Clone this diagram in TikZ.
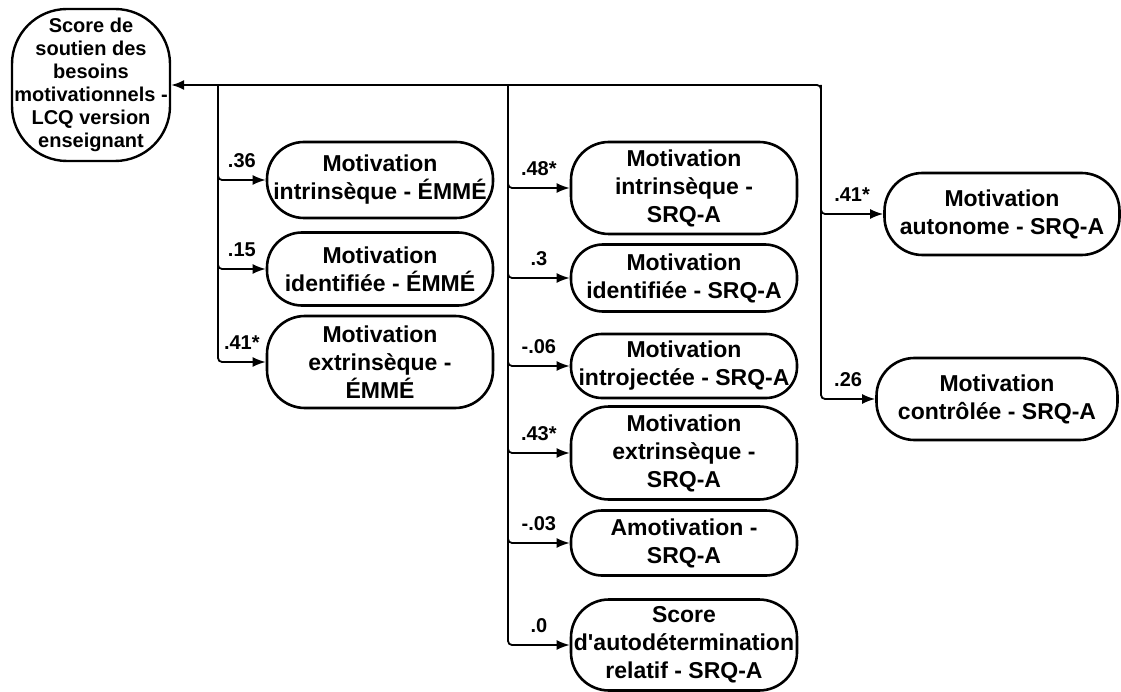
\documentclass[tikz,border=0pt]{standalone}
\usepackage{fontspec}
\setmainfont{Liberation Sans}
\usetikzlibrary{arrows.meta}
\tikzset{
	src/.style={draw, line width=2.4pt, rounded corners=55pt, minimum width=158pt, minimum height=152pt, inner sep=1pt, align=center, font=\fontsize{20}{23}\selectfont\bfseries},
	var/.style={draw, line width=2.6pt, rounded corners=38pt, minimum width=226pt, inner sep=1pt, align=center, font=\fontsize{23}{28}\selectfont\bfseries},
	coef/.style={pos=0.75, above=8pt, font=\fontsize{20}{24}\selectfont\bfseries},
	link/.style={->, line width=1.8pt, rounded corners=4pt}
}

\begin{document}
\begin{tikzpicture}[x=1pt, y=-1pt, >={Latex[length=13pt, width=10pt]}]
	\useasboundingbox (0, 0) rectangle (1121, 692);
	\node [src] (Src) at (91, 85) {Score de\\soutien des\\besoins\\motivationnels -\\LCQ version\\enseignant};
	\node [var, minimum height=76pt, rounded corners=37pt] (E1) at (380, 180) {Motivation\\intrinsèque - ÉMMÉ};
	\node [var, minimum height=73pt, rounded corners=35pt] (E2) at (380, 269) {Motivation\\identifiée - ÉMMÉ};
	\node [var, minimum height=92pt] (E3) at (380, 362) {Motivation\\extrinsèque -\\ÉMMÉ};
	\node [var, minimum height=92pt] (S1) at (684, 188) {Motivation\\intrinsèque -\\SRQ-A};
	\node [var, minimum height=67pt, rounded corners=32pt] (S2) at (684, 278) {Motivation\\identifiée - SRQ-A};
	\node [var, minimum height=64pt, rounded corners=31pt] (S3) at (684, 366) {Motivation\\introjectée - SRQ-A};
	\node [var, minimum height=93pt] (S4) at (684, 453) {Motivation\\extrinsèque -\\SRQ-A};
	\node [var, minimum height=65pt, rounded corners=31pt] (S5) at (684, 543) {Amotivation -\\SRQ-A};
	\node [var, minimum height=91pt] (S6) at (684, 645) {Score\\d{\textquotesingle}autodétermination\\relatif - SRQ-A};
	\node [var, minimum width=235pt, minimum height=82pt] (Aut) at (1002, 214) {Motivation\\autonome - SRQ-A};
	\node [var, minimum width=241pt, minimum height=82pt] (Ctl) at (997, 399) {Motivation\\contrôlée - SRQ-A};
	\coordinate (K1) at (218, 85);
	\coordinate (K2) at (508, 85);
	\coordinate (K3) at (821, 85);
	\draw [link, <->] (Src) -- (K3) |- node [coef] {.26} (Ctl);
	\draw [link] (K3) |- node [coef] {.41*} (Aut);
	\draw [link] (K1) |- node [coef] {.36} (E1);
	\draw [link] (K1) |- node [coef] {.15} (E2);
	\draw [link] (K1) |- node [coef] {.41*} (E3);
	\draw [link] (K2) |- node [coef] {.48*} (S1);
	\draw [link] (K2) |- node [coef] {.3} (S2);
	\draw [link] (K2) |- node [coef] {-.06} (S3);
	\draw [link] (K2) |- node [coef] {.43*} (S4);
	\draw [link] (K2) |- node [coef] {-.03} (S5);
	\draw [link] (K2) |- node [coef] {.0} (S6);
\end{tikzpicture}
\end{document}
